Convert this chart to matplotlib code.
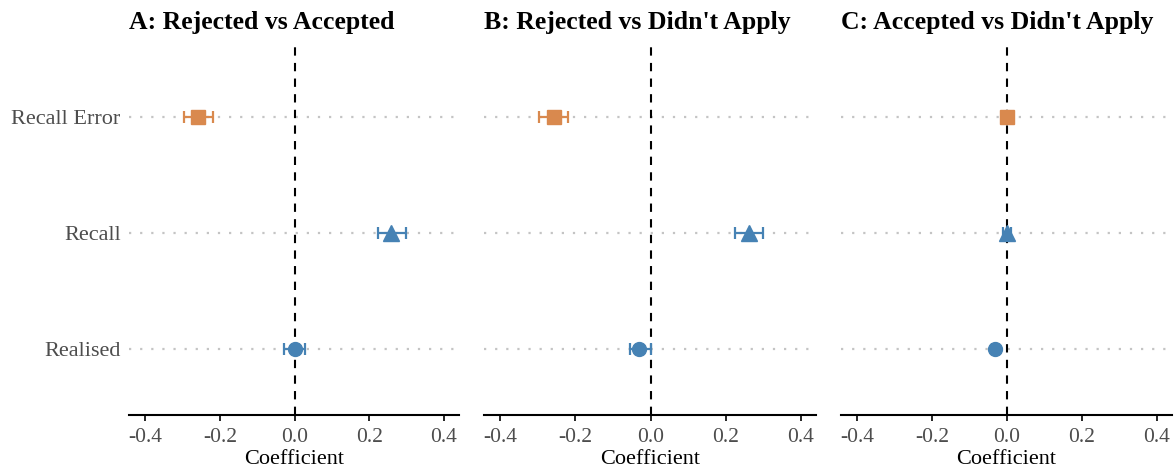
import numpy as np
import matplotlib.pyplot as plt

plt.rcParams['font.family'] = ['Liberation Serif', 'DejaVu Serif']

# Данные
outcomes = ['Realised', 'Recall', 'Recall Error']
titles = ["A: Rejected vs Accepted", "B: Rejected vs Didn't Apply", "C: Accepted vs Didn't Apply"]

est_a = [0.0, 0.259, -0.258]
lo_a = [-0.027, 0.222, -0.297]
hi_a = [0.027, 0.297, -0.219]

est_b = [-0.032, 0.262, -0.258]
lo_b = [-0.056, 0.224, -0.297]
hi_b = [0.0, 0.300, -0.219]

est_c = [-0.032, 0.0, 0.0]
lo_c = [-0.040, -0.010, -0.008]
hi_c = [-0.024, 0.010, 0.008]

panels = [(est_a, lo_a, hi_a), (est_b, lo_b, hi_b), (est_c, lo_c, hi_c)]

blue = '#4682B4'
orange = '#D9894E'
colors = [blue, blue, orange]
markers = ['o', '^', 's']
msizes = [10, 11, 10]

fig = plt.figure(figsize=(11.75, 4.68), dpi=100)
lefts = [129, 484, 841]
widths = [330, 332, 331]

ypos = np.arange(1, len(outcomes) + 1)

for k, (est, lo, hi) in enumerate(panels):
    ax = fig.add_axes([lefts[k] / 1175, 1 - 415 / 468, widths[k] / 1175, (415 - 47) / 468])
    for y in ypos:
        ax.axhline(y, color='#c4c4c4', linestyle=(0, (1, 4)), linewidth=1.6, zorder=0)
    ax.axvline(0, color='black', linestyle=(0, (4, 3.5)), linewidth=1.5, zorder=1)
    for i in range(len(outcomes)):
        ax.errorbar(est[i], ypos[i],
                    xerr=[[est[i] - lo[i]], [hi[i] - est[i]]],
                    fmt='none', ecolor=colors[i], elinewidth=1.6, capsize=4, capthick=1.6, zorder=2)
        ax.plot(est[i], ypos[i], marker=markers[i], color=colors[i], markersize=msizes[i],
                linestyle='none', zorder=3)
    ax.set_xlim(-0.443, 0.44)
    ax.set_ylim(0.43, 3.6)
    ax.set_xticks([-0.4, -0.2, 0.0, 0.2, 0.4])
    ax.set_xticklabels(['-0.4', '-0.2', '0.0', '0.2', '0.4'])
    ax.set_yticks(ypos)
    if k == 0:
        ax.set_yticklabels(outcomes)
    else:
        ax.set_yticklabels([])
    ax.tick_params(axis='y', length=0, labelsize=16, labelcolor='#4d4d4d', pad=6)
    ax.tick_params(axis='x', length=4, width=1.2, labelsize=15.5, labelcolor='#4d4d4d', pad=5.5)
    for s in ['top', 'right', 'left']:
        ax.spines[s].set_visible(False)
    ax.spines['bottom'].set_linewidth(1.5)
    ax.set_xlabel('Coefficient', fontsize=16, labelpad=2)
    ax.set_title(titles[k], loc='left', fontsize=18.5, fontweight='bold', pad=13)

fig.savefig('out.png', dpi=100)
